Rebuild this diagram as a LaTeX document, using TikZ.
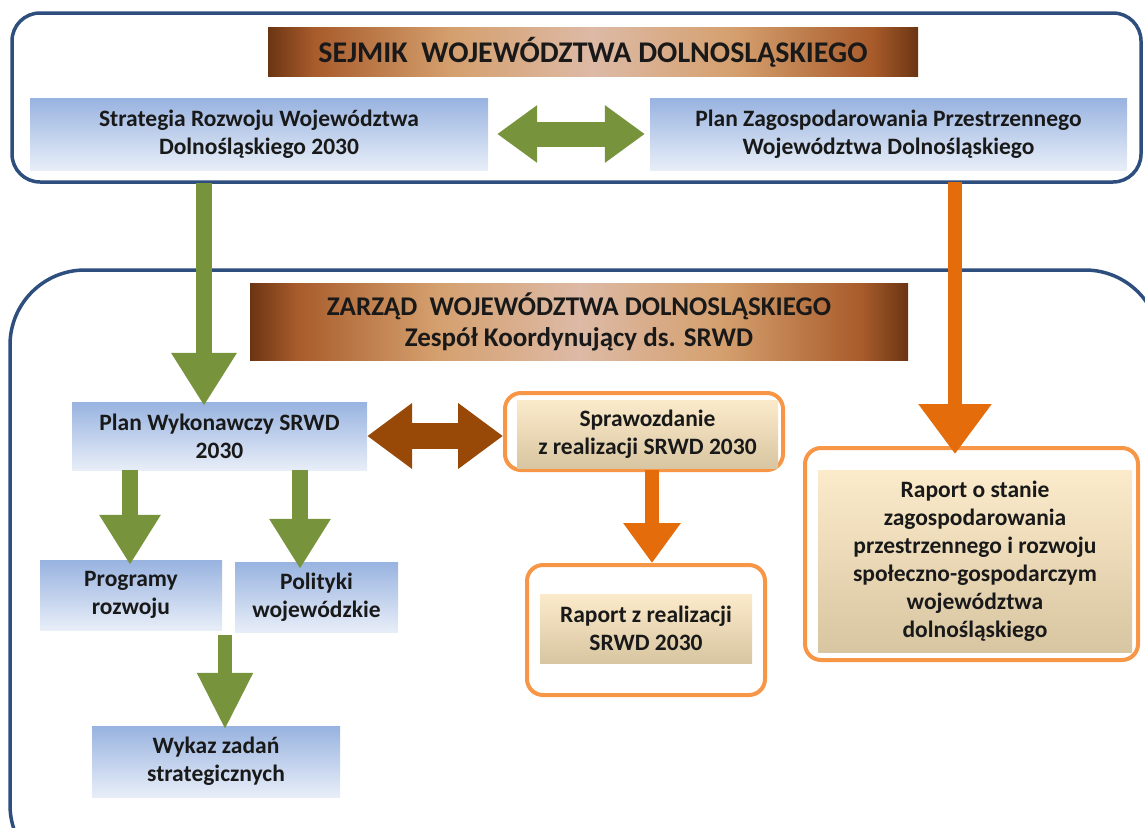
\documentclass[tikz,border=0pt]{standalone}
\usepackage{fontspec}
\setmainfont{Carlito}
\usetikzlibrary{arrows.meta,positioning,calc}
\definecolor{ramka}{HTML}{2E4F7E}
\definecolor{oliwka}{HTML}{77933C}
\definecolor{pomar}{HTML}{E46C0A}
\definecolor{pomarjas}{HTML}{F79646}
\definecolor{braz}{HTML}{984807}
\definecolor{niebgora}{HTML}{98B3E0}
\definecolor{niebdol}{HTML}{E8EEF8}
\definecolor{kremgora}{HTML}{FCEBCB}
\definecolor{kremdol}{HTML}{D8C5A1}
\definecolor{miedzc}{HTML}{6B3513}
\definecolor{miedzs}{HTML}{A85B2B}
\definecolor{miedzj}{HTML}{D49F6D}
\definecolor{miedzb}{HTML}{DDBAA6}
\pgfdeclarehorizontalshading{miedz}{100bp}{color(0bp)=(miedzc); color(25bp)=(miedzc);
  color(28.5bp)=(miedzs); color(39bp)=(miedzj); color(50bp)=(miedzb); color(61bp)=(miedzj);
  color(71.5bp)=(miedzs); color(75bp)=(miedzc); color(100bp)=(miedzc)}

\begin{document}
\begin{tikzpicture}[x=1pt,y=-1pt,line cap=butt,
    tekst/.style={font=\fontsize{23.5}{28}\selectfont\bfseries,text=black!90,align=center,inner sep=0pt},
    baner/.style={tekst,shading=miedz},
    niebbox/.style={tekst,top color=niebgora,bottom color=niebdol},
    krembox/.style={tekst,top color=kremgora,bottom color=kremdol},
    ramkapom/.style={draw=pomarjas,line width=4pt,rounded corners=16pt,inner sep=0pt},
    zielona/.style={draw=oliwka,line width=16pt,-{Triangle[length=50pt,width=58pt]}},
    pomarowa/.style={draw=pomar,line width=14pt,-{Triangle[length=50pt,width=70pt]}}]
  \useasboundingbox (0,0) rectangle (1145,827);
  % ramy
  \draw[ramka,line width=3.5pt,rounded corners=28pt] (12,13) rectangle (1141,182);
  \begin{scope}
    \clip (0,0) rectangle (1145,827);
    \draw[ramka,line width=3.5pt,rounded corners=75pt] (10,270) rectangle (1160,880);
  \end{scope}
  % sejmik
  \node[baner,minimum width=650pt,minimum height=49pt,font=\fontsize{30}{32}\selectfont\bfseries]
       (sejmik) at (593,52) {SEJMIK~~WOJEWÓDZTWA DOLNOSLĄSKIEGO};
  \node[niebbox,minimum width=458pt,minimum height=72pt] (strat) at (259,134)
       {Strategia Rozwoju Województwa\\Dolnośląskiego 2030};
  \node[niebbox,minimum width=477pt,minimum height=72pt] (plzp) at (888.5,134)
       {Plan Zagospodarowania Przestrzennego\\Województwa Dolnośląskiego};
  % zarzad
  \node[baner,minimum width=658pt,minimum height=77pt,font=\fontsize{27}{31}\selectfont\bfseries]
       (zarzad) at (579,321.5) {ZARZĄD~~WOJEWÓDZTWA DOLNOSLĄSKIEGO\\Zespół Koordynujący ds. SRWD};
  \node[niebbox,minimum width=295pt,minimum height=68pt] (planw) at (219.5,436)
       {Plan Wykonawczy SRWD\\2030};
  \node[ramkapom,minimum width=278pt,minimum height=77pt] (sprawr) at (644,431.5) {};
  \node[krembox,minimum width=261pt,minimum height=68pt] (spraw) at (647.5,434)
       {Sprawozdanie\\z realizacji SRWD 2030};
  \node[ramkapom,minimum width=238pt,minimum height=130pt] (rapzr) at (646,630) {};
  \node[krembox,minimum width=212pt,minimum height=69pt] (rapz) at (646,628.5)
       {Raport z realizacji\\SRWD 2030};
  \node[ramkapom,minimum width=333pt,minimum height=212pt] (rapor) at (971.5,554) {};
  \node[krembox,minimum width=314pt,minimum height=182pt] (rapo) at (975,561)
       {Raport o stanie\\zagospodarowania\\przestrzennego i rozwoju\\społeczno-gospodarczym\\województwa\\dolnośląskiego};
  \node[niebbox,minimum width=182pt,minimum height=70pt] (prog) at (131,595)
       {Programy\\rozwoju};
  \node[niebbox,minimum width=163pt,minimum height=70pt] (polit) at (316.5,597)
       {Polityki\\wojewódzkie};
  \node[niebbox,minimum width=248pt,minimum height=71pt] (wykaz) at (216,761.5)
       {Wykaz zadań\\strategicznych};
  % strzalki
  \coordinate (zs) at (204,183);
  \coordinate (ps) at (955,182);
  \coordinate (sp) at (652,470);
  \coordinate (pg) at (130,470);
  \coordinate (pl) at (300,470);
  \coordinate (wk) at (225,635);
  \draw[oliwka,line width=25pt,{Triangle[length=40pt,width=55pt]}-{Triangle[length=40pt,width=55pt]},
        shorten <=9pt,shorten >=5pt] (strat.east) -- (plzp.west);
  \draw[braz,line width=26pt,{Triangle[length=45pt,width=63pt]}-{Triangle[length=45pt,width=63pt]}]
        (planw.east) -- (planw.east -| sprawr.west);
  \draw[zielona,-{Triangle[length=53pt,width=62pt]}] (zs) -- ([yshift=-4pt]zs |- planw.north);
  \draw[pomarowa] (ps) -- ([yshift=-8pt]ps |- rapor.north);
  \draw[pomarowa,-{Triangle[length=40pt,width=55pt]}] (sp) -- (sp |- rapzr.north);
  \draw[zielona] (pg) -- ([yshift=-5pt]pg |- prog.north);
  \draw[zielona] (pl) -- ([yshift=-7pt]pl |- polit.north);
  \draw[zielona,line width=14pt,-{Triangle[length=57pt,width=52pt]}]
        (wk) -- ([yshift=-4pt]wk |- wykaz.north);
\end{tikzpicture}
\end{document}
